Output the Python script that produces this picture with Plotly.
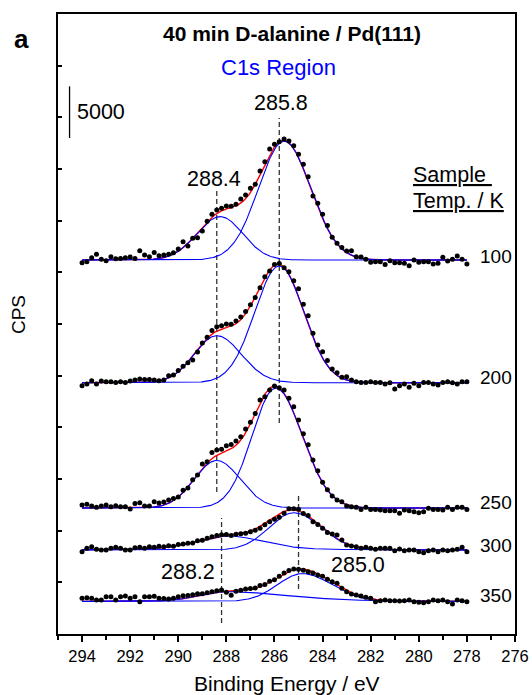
import numpy as np
import plotly.graph_objects as go

# Binding energy grid of the C1s scans (eV)
ENERGY = [
    294.0, 293.8, 293.6, 293.4, 293.2, 293.0, 292.8, 292.6, 292.4, 292.2,
    292.0, 291.8, 291.6, 291.4, 291.2, 291.0, 290.8, 290.6, 290.4, 290.2,
    290.0, 289.8, 289.6, 289.4, 289.2, 289.0, 288.8, 288.6, 288.4, 288.2,
    288.0, 287.8, 287.6, 287.4, 287.2, 287.0, 286.8, 286.6, 286.4, 286.2,
    286.0, 285.8, 285.6, 285.4, 285.2, 285.0, 284.8, 284.6, 284.4, 284.2,
    284.0, 283.8, 283.6, 283.4, 283.2, 283.0, 282.8, 282.6, 282.4, 282.2,
    282.0, 281.8, 281.6, 281.4, 281.2, 281.0, 280.8, 280.6, 280.4, 280.2,
    280.0, 279.8, 279.6, 279.4, 279.2, 279.0, 278.8, 278.6, 278.4, 278.2,
    278.0,
]

# Sample temperatures (K) and the vertical stacking offset of each spectrum (CPS)
TEMPS = ["100", "200", "250", "300", "350"]
OFFSETS = [36190, 24320, 12190, 8130, 3145]

# Measured intensity above each spectrum's baseline (CPS)
CPS_100 = [
    -260, -160, 225, 550, 65, -65, 320, 130, 160, 225,
    290, 160, 900, 480, 320, 740, 420, 480, 550, 700,
    1060, 1775, 1360, 2100, 2160, 2810, 3750, 4420, 4840, 5000,
    5225, 5195, 5390, 5900, 6290, 6940, 7325, 8610, 9515, 10740,
    11195, 11450, 11710, 11515, 11060, 10230, 9260, 8065, 6200, 5485,
    4420, 3350, 2195, 1615, 1225, 870, 900, 320, 290, 65,
    -225, -160, -160, -420, -65, -260, -260, -320, -550, 0,
    -225, -160, -160, -390, -320, 260, -100, 65, 390, 65,
    -390,
]
CPS_200 = [
    -290, -130, 195, -130, 160, 100, 100, 30, 100, 30,
    160, 260, 355, 320, 320, 260, 195, 260, 660, 740,
    1190, 1580, 1935, 2200, 2970, 3840, 4400, 5050, 5420, 5500,
    5675, 5660, 5980, 6350, 6900, 7550, 8240, 9200, 10260, 10805,
    11450, 11545, 11130, 10730, 9855, 9100, 7600, 6485, 4775, 3645,
    3000, 2150, 1325, 970, 515, 580, 260, 100, 30, 30,
    100, 30, 30, -130, 0, -615, -290, -130, -450, -65,
    -290, 30, 30, -130, -225, 30, 100, 0, -130, 100,
    100,
]
CPS_250 = [
    290, 355, 195, 65, 195, 290, 130, 225, 130, 130,
    -100, 450, 515, 195, 195, 615, 480, 580, 775, 935,
    1060, 1710, 1935, 2740, 3190, 4270, 4470, 5370, 5610, 5690,
    6030, 6160, 6485, 6900, 7645, 8290, 9160, 10450, 10775, 11420,
    11805, 11645, 11420, 10615, 9805, 8515, 7190, 6130, 4645, 3600,
    2500, 1760, 1160, 775, 615, 195, 130, 65, -130, 65,
    -130, -130, -195, -260, -260, -260, -515, -195, -260, -355,
    -450, -355, -30, -130, -130, -195, 65, -130, 65, 65,
    -130,
]
CPS_300 = [
    -160, 160, 320, 65, 0, 0, 160, 260, 160, 0,
    0, 225, 260, 160, 320, 260, 350, 320, 400, 350,
    530, 580, 650, 680, 900, 940, 1130, 1290, 1400, 1480,
    1500, 1400, 1520, 1560, 1610, 1770, 1900, 2100, 2450, 2740,
    2980, 3180, 3550, 3980, 4000, 3950, 3520, 3340, 2740, 2470,
    2100, 1700, 1550, 1450, 970, 480, 390, 320, 160, 260,
    160, 65, 160, 160, 160, -65, 100, -65, 0, 0,
    -160, -260, -65, 0, -160, 0, -65, 0, 65, 260,
    -160,
]
CPS_350 = [
    305, 370, 305, 145, 145, 465, 465, 145, 465, 530,
    305, 465, -15, 465, 465, 520, 305, 300, 240, 305,
    465, 550, 580, 650, 740, 760, 855, 950, 1050, 1120,
    900, 600, 1000, 1100, 1200, 1250, 1300, 1560, 1650, 1950,
    2100, 2450, 2750, 3000, 3145, 3130, 3020, 2885, 2760, 2565,
    2440, 2145, 1920, 1760, 1275, 950, 725, 630, 530, 405,
    305, -15, 80, 145, 80, 80, 50, 80, 145, -15,
    -80, -115, -15, 145, 80, 145, -15, -240, 145, 80,
    -15,
]
SPECTRA = [CPS_100, CPS_200, CPS_250, CPS_300, CPS_350]

# Fitted C1s components: (centre eV, height CPS, HWHM high-BE side, HWHM low-BE side, Lorentzian fraction)
FIT_100 = [(285.6, 11500, 1.25, 1.30, 0.0), (288.25, 4200, 1.15, 1.10, 0.0)]
FIT_200 = [(285.8, 11300, 1.20, 1.20, 0.0), (288.4, 4550, 1.10, 1.20, 0.0)]
FIT_250 = [(285.95, 11600, 1.15, 1.30, 0.0), (288.4, 4600, 1.10, 1.15, 0.0)]
FIT_300 = [(285.2, 3600, 1.20, 1.35, 0.0), (287.9, 1350, 1.60, 1.70, 0.3)]
FIT_350 = [(284.85, 2700, 1.20, 1.45, 0.0), (288.0, 950, 1.30, 3.00, 0.3)]
FITS = [FIT_100, FIT_200, FIT_250, FIT_300, FIT_350]

# Peak assignments marked with dashed guides: (label, eV, top CPS, bottom CPS)
GUIDES = [
    ("285.8", 285.8, 49930, 20420),
    ("288.4", 288.4, 42870, 13740),
    ("285.0", 285.0, 13650, 4360),
    ("288.2", 288.2, 11230, 1060),
]

FONT = "Liberation Sans, Arial, Helvetica, sans-serif"
BLUE = "#0000ff"
RED = "#ff0000"

for s in SPECTRA:
    assert len(s) == len(ENERGY)


def component(e, centre, height, w_high, w_low, frac):
    """Asymmetric Gaussian/Lorentzian line shape."""
    w = np.where(e >= centre, w_high, w_low)
    u = (e - centre) / w
    return height * ((1 - frac) * np.exp(-np.log(2) * u ** 2) + frac / (1 + u ** 2))


e_fine = np.linspace(ENERGY[0], ENERGY[-1], 641)
energy = np.array(ENERGY)

fig = go.Figure()

for cps, offset, fit in zip(SPECTRA, OFFSETS, FITS):
    parts = [component(e_fine, *p) for p in fit]
    envelope = offset + np.sum(parts, axis=0)
    fig.add_trace(go.Scatter(x=e_fine, y=envelope, mode="lines",
                             line=dict(color=RED, width=1.4), hoverinfo="skip"))
    for part in parts:
        fig.add_trace(go.Scatter(x=e_fine, y=offset + part, mode="lines",
                                 line=dict(color=BLUE, width=1.1), hoverinfo="skip"))
    fig.add_trace(go.Scatter(x=energy, y=offset + np.array(cps), mode="markers",
                             marker=dict(color="black", size=5)))

shapes = []
for _, ev, top, bottom in GUIDES:
    shapes.append(dict(type="line", xref="x", yref="y", x0=ev, x1=ev, y0=bottom, y1=top,
                       line=dict(color="#333333", width=1.3, dash="5px,3px"), layer="below"))
# 5000 CPS scale bar
shapes.append(dict(type="line", xref="x", yref="y", x0=294.52, x1=294.52, y0=48000, y1=53000,
                   line=dict(color="black", width=1.3)))


def label(text, x, y, size, color="black", **kw):
    return dict(text=text, x=x, y=y, showarrow=False,
                font=dict(size=size, family=FONT, color=color), **kw)


annotations = [
    label("<b>a</b>", -0.0788, 0.987, 26, xref="paper", yref="paper", xanchor="center"),
    label("<b>40 min D-alanine / Pd(111)</b>", 285.26, 58160, 21),
    label("C1s Region", 285.84, 54870, 22, color=BLUE),
    label("5000", 294.28, 50500, 21.5, xanchor="left"),
    label("285.8", 285.72, 51385, 21.5),
    label("288.4", 288.5, 44030, 21.5),
    label("288.2", 289.6, 6030, 21.5),
    label("285.0", 282.51, 6680, 21.5),
    label("<u>Sample </u>", 280.31, 44420, 21.5, xanchor="left"),
    label("<u>Temp. / K</u>", 280.31, 41900, 21.5, xanchor="left"),
    label("CPS", -0.0875, 0.5145, 19, xref="paper", yref="paper", xanchor="center",
          yanchor="middle", textangle=-90),
    label("Binding Energy / eV", 0.5, -0.0806, 21, xref="paper", yref="paper",
          xanchor="center", yanchor="middle", borderpad=0),
]
label_y = [36580, 24870, 12680, 8520, 3770]
for t, ly in zip(TEMPS, label_y):
    annotations.append(label(t, 277.52, ly, 19, xanchor="left"))

fig.update_layout(
    width=532, height=695,
    margin=dict(l=58, r=17, t=14, b=61, autoexpand=False),
    plot_bgcolor="white", paper_bgcolor="white",
    showlegend=False,
    font=dict(family=FONT, color="black"),
    shapes=shapes,
    annotations=annotations,
    xaxis=dict(
        range=[295, 276], tickmode="array", tickvals=list(range(276, 295, 2)),
        ticks="outside", ticklen=6, tickwidth=1.5, tickcolor="black",
        minor=dict(tickvals=list(range(277, 296, 2)), ticks="outside", ticklen=4,
                   tickwidth=1.5, tickcolor="black"),
        showline=True, linewidth=2, linecolor="black", mirror=True,
        showgrid=False, zeroline=False, automargin=False,
        tickfont=dict(size=16.5, family=FONT, color="black"),
    ),
    yaxis=dict(
        range=[0, 60000], tick0=0, dtick=5000,
        ticks="inside", ticklen=4, tickwidth=1.5, tickcolor="black",
        showticklabels=False,
        showline=True, linewidth=2, linecolor="black", mirror=True,
        showgrid=False, zeroline=False, automargin=False,
    ),
)

fig.write_html("out.html")
